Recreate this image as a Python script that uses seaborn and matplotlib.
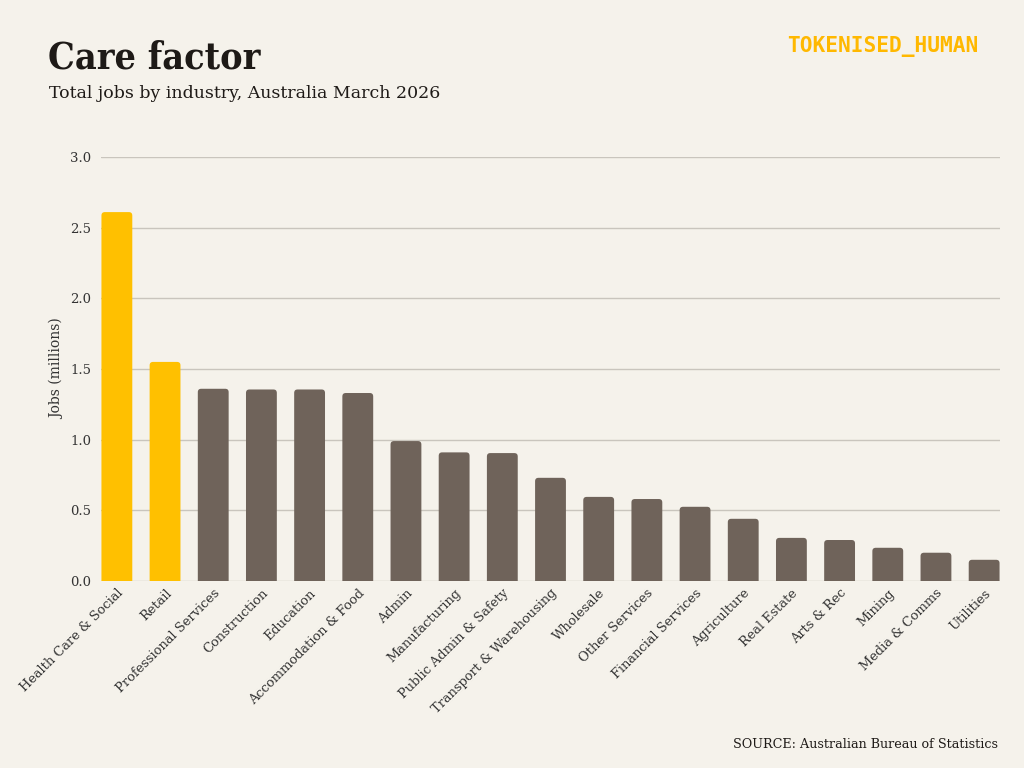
import matplotlib
matplotlib.use("Agg")
import matplotlib.pyplot as plt
from matplotlib.patches import FancyBboxPatch
import seaborn as sns
import pandas as pd

industries = [
    "Health Care & Social", "Retail", "Professional Services", "Construction",
    "Education", "Accommodation & Food", "Admin", "Manufacturing",
    "Public Admin & Safety", "Transport & Warehousing", "Wholesale",
    "Other Services", "Financial Services", "Agriculture", "Real Estate",
    "Arts & Rec", "Mining", "Media & Comms", "Utilities",
]
jobs_millions = [2.61, 1.55, 1.36, 1.355, 1.355, 1.33, 0.99, 0.91, 0.905, 0.73,
                 0.595, 0.58, 0.525, 0.44, 0.305, 0.29, 0.235, 0.20, 0.15]
highlight = ["Health Care & Social", "Retail"]
yticks = [0.0, 0.5, 1.0, 1.5, 2.0, 2.5, 3.0]

BG = "#F5F2EB"
YELLOW = "#FFC000"
BROWN = "#6F635A"
GRID = "#C9C5BD"
TEXT = "#1E1A17"
LOGO = "#FFB800"

df = pd.DataFrame({"industry": industries, "jobs": jobs_millions})
df["group"] = ["hi" if i in highlight else "lo" for i in industries]

sns.set_theme(style="white")
plt.rcParams["font.family"] = ["DejaVu Serif"]

fig = plt.figure(figsize=(10.24, 7.68), dpi=100, facecolor=BG)
ax = fig.add_axes([0.0986, 0.2435, 0.8780, 0.5521], facecolor=BG)

sns.barplot(data=df, x="industry", y="jobs", hue="group",
            palette={"hi": YELLOW, "lo": BROWN}, width=0.64, saturation=1,
            legend=False, ax=ax, zorder=3, linewidth=0)

ax.set_xlim(-0.33, len(industries) - 1 + 0.33)
ax.set_ylim(0, 3.0)

# replace rectangles with rounded-top bars
fig.canvas.draw()
p0 = ax.transData.transform((0, 0))
p1 = ax.transData.transform((1, 1))
px_x = abs(p1[0] - p0[0])
px_y = abs(p1[1] - p0[1])
aspect = px_x / px_y
for p in list(ax.patches):
    x, y, w, h = p.get_x(), p.get_y(), p.get_width(), p.get_height()
    if h <= 0:
        continue
    fc = p.get_facecolor()
    p.remove()
    fb = FancyBboxPatch((x, y - 0.05), w, h + 0.05,
                        boxstyle="round,pad=0,rounding_size=0.07",
                        mutation_aspect=aspect,
                        facecolor=fc, edgecolor="none", zorder=3)
    ax.add_patch(fb)

ax.set_yticks(yticks)
ax.set_yticklabels([f"{v:.1f}" for v in yticks], fontsize=9.5, color="#333333")
ax.yaxis.grid(True, color=GRID, linewidth=1.0, zorder=0)
ax.xaxis.grid(False)
ax.tick_params(axis="y", length=0, pad=7)
ax.tick_params(axis="x", length=0, pad=4)
ax.set_xticks(range(len(industries)))
ax.set_xticklabels(industries, rotation=45, ha="right", rotation_mode="anchor",
                   fontsize=9.4, color="#333333")
for s in ax.spines.values():
    s.set_visible(False)
ax.set_xlabel("")
ax.set_ylabel("Jobs (millions)", fontsize=10, color="#333333", labelpad=4)

fig.text(0.047, 0.911, "Care factor", fontsize=27, fontweight="bold", color=TEXT,
         fontstretch="condensed", va="baseline")
fig.text(0.048, 0.872, "Total jobs by industry, Australia March 2026", fontsize=12.5,
         color=TEXT, va="baseline")
fig.text(0.955, 0.932, "TOKENISED_HUMAN", fontsize=15.2, fontweight="bold",
         color=LOGO, family="DejaVu Sans Mono", ha="right", va="baseline")
fig.text(0.975, 0.026, "SOURCE: Australian Bureau of Statistics", fontsize=9.2,
         color=TEXT, ha="right", va="baseline")

fig.savefig("out.png", dpi=100, facecolor=BG)
